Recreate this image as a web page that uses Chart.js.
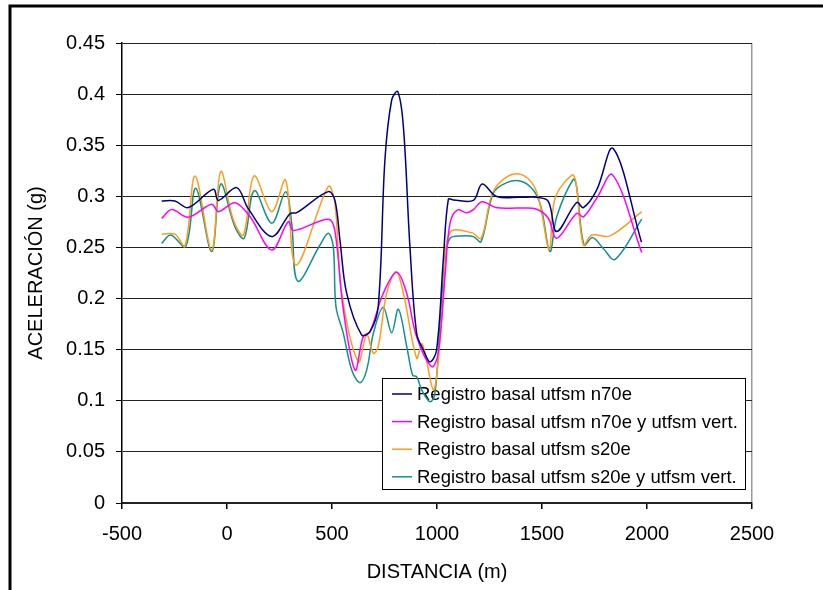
<!DOCTYPE html>
<html>
<head>
<meta charset="utf-8">
<title>Aceleración vs distancia</title>
<script src="https://cdn.jsdelivr.net/npm/chart.js@4.4.1/dist/chart.umd.min.js"></script>
<style>
  html, body { margin: 0; padding: 0; background: #fff; }
  #chartContainer { width: 823px; height: 590px; }
</style>
</head>
<body>
<div id="chartContainer"><canvas id="chart" width="823" height="590"></canvas></div>
<script>
// series (x = distancia m, y = aceleración g)
const n70eX = [-311, -248, -184, -65, -41, 46, 101, 213, 300, 332, 482, 514, 538, 570, 641, 681, 720, 752, 784, 813, 840, 871, 903, 935, 967, 998, 1030, 1054, 1078, 1173, 1215, 1284, 1395, 1475, 1530, 1570, 1665, 1697, 1760, 1839, 1974];
const n70eY = [0.2955, 0.2955, 0.289, 0.307, 0.296, 0.3085, 0.288, 0.2606, 0.283, 0.284, 0.3046, 0.296, 0.257, 0.205, 0.1644, 0.1676, 0.192, 0.3356, 0.394, 0.4025, 0.368, 0.251, 0.166, 0.1497, 0.138, 0.1497, 0.238, 0.297, 0.2965, 0.296, 0.312, 0.2998, 0.299, 0.299, 0.295, 0.2655, 0.294, 0.289, 0.306, 0.3467, 0.255];

const n70eVertX = [-311, -263, -184, -73, -41, 38, 110, 213, 292, 316, 482, 514, 554, 610, 649, 681, 744, 808, 856, 903, 975, 1006, 1038, 1062, 1098, 1141, 1173, 1215, 1280, 1395, 1475, 1530, 1570, 1665, 1697, 1760, 1836, 1975];
const n70eVertY = [0.2785, 0.287, 0.2796, 0.2923, 0.285, 0.2938, 0.280, 0.2476, 0.2753, 0.2665, 0.2776, 0.266, 0.1888, 0.130, 0.163, 0.1676, 0.205, 0.2257, 0.205, 0.1627, 0.1334, 0.1465, 0.2215, 0.2737, 0.2867, 0.284, 0.287, 0.2948, 0.289, 0.2885, 0.2874, 0.2786, 0.259, 0.2834, 0.280, 0.298, 0.321, 0.245];

const s20eX = [-311, -248, -200, -152, -73, -30, 30, 78, 129, 213, 279, 329, 482, 514, 546, 625, 665, 697, 720, 760, 805, 840, 903, 927, 943, 983, 1006, 1030, 1062, 1165, 1210, 1264, 1332, 1400, 1459, 1490, 1535, 1562, 1644, 1662, 1697, 1737, 1824, 1975];
const s20eY = [0.263, 0.263, 0.2515, 0.320, 0.2476, 0.3242, 0.277, 0.2622, 0.320, 0.285, 0.316, 0.2329, 0.3095, 0.293, 0.205, 0.138, 0.1644, 0.1465, 0.153, 0.205, 0.2263, 0.205, 0.1416, 0.1556, 0.1465, 0.1106, 0.140, 0.205, 0.2645, 0.2645, 0.259, 0.303, 0.319, 0.3215, 0.311, 0.293, 0.248, 0.298, 0.321, 0.313, 0.2524, 0.2622, 0.2613, 0.285];

const s20eVertX = [-311, -268, -197, -149, -73, -30, 38, 82, 130, 213, 279, 308, 337, 443, 482, 506, 519, 554, 594, 633, 665, 697, 744, 784, 816, 856, 884, 903, 927, 967, 990, 1014, 1038, 1062, 1117, 1173, 1210, 1268, 1332, 1400, 1459, 1495, 1538, 1570, 1649, 1665, 1700, 1741, 1792, 1848, 1975];
const s20eVertY = [0.254, 0.2622, 0.2508, 0.308, 0.246, 0.312, 0.270, 0.259, 0.3056, 0.2737, 0.3046, 0.2737, 0.217, 0.2524, 0.2638, 0.251, 0.192, 0.166, 0.130, 0.1177, 0.130, 0.166, 0.1915, 0.1666, 0.1895, 0.153, 0.125, 0.1236, 0.1106, 0.099, 0.107, 0.1725, 0.238, 0.259, 0.2613, 0.2606, 0.2557, 0.303, 0.3134, 0.3148, 0.306, 0.29, 0.246, 0.280, 0.3167, 0.3095, 0.2524, 0.2596, 0.249, 0.2384, 0.2777];

const seriesNames = [
  "Registro basal utfsm n70e",
  "Registro basal utfsm n70e y utfsm vert.",
  "Registro basal utfsm s20e",
  "Registro basal utfsm s20e y utfsm vert."
];
const seriesColors = ["#000080", "#ff00ff", "#ff9c1a", "#139090"];

const xTicks = [-500, 0, 500, 1000, 1500, 2000, 2500];
const yTicks = [0, 0.05, 0.1, 0.15, 0.2, 0.25, 0.3, 0.35, 0.4, 0.45];

const FONT = "'Liberation Sans', Arial, sans-serif";

function toPoints(xs, ys) {
  return xs.map((x, i) => ({ x: x, y: ys[i] }));
}

// white page + the black frame that is cut off at right and bottom
const framePlugin = {
  id: "frame",
  beforeDraw(chart) {
    const ctx = chart.ctx;
    ctx.save();
    ctx.fillStyle = "#fff";
    ctx.fillRect(0, 0, chart.width, chart.height);
    ctx.strokeStyle = "#000";
    ctx.lineWidth = 3;
    ctx.strokeRect(10, 6, chart.width + 20, chart.height + 20);
    ctx.restore();
  }
};

// legend box inside the plot, curves are drawn over it
const boxLegend = {
  id: "boxLegend",
  beforeDatasetsDraw(chart) {
    const ctx = chart.ctx;
    const area = chart.chartArea;
    const w = 363, h = 111;
    const left = area.right - 7 - w;
    const top = area.bottom - 14 - h;
    ctx.save();
    ctx.fillStyle = "#fff";
    ctx.fillRect(left, top, w, h);
    ctx.strokeStyle = "#000";
    ctx.lineWidth = 1;
    ctx.strokeRect(left + 0.5, top + 0.5, w, h);
    ctx.font = "18.5px " + FONT;
    ctx.textBaseline = "middle";
    ctx.fillStyle = "#000";
    chart.data.datasets.forEach((ds, i) => {
      const y = top + 16 + i * 27.6;
      ctx.strokeStyle = ds.borderColor;
      ctx.lineWidth = 1.5;
      ctx.beginPath();
      ctx.moveTo(left + 10, y);
      ctx.lineTo(left + 30, y);
      ctx.stroke();
      ctx.fillText(ds.label, left + 35, y + 1);
    });
    ctx.restore();
  }
};

function createLineChart() {
  const datasets = [
    toPoints(n70eX, n70eY),
    toPoints(n70eVertX, n70eVertY),
    toPoints(s20eX, s20eY),
    toPoints(s20eVertX, s20eVertY)
  ].map((pts, i) => ({
    label: seriesNames[i],
    data: pts,
    borderColor: seriesColors[i],
    borderWidth: 1.5,
    pointRadius: 0,
    tension: 0.35,
    fill: false
  }));

  const tickFont = { family: FONT, size: 20 };

  const chartOptions = {
    responsive: false,
    animation: false,
    layout: { padding: { top: 43, right: 71, left: 0, bottom: 0 } },
    plugins: {
      legend: { display: false },
      tooltip: { enabled: false }
    },
    scales: {
      x: {
        type: "linear",
        min: -500,
        max: 2500,
        afterBuildTicks: s => { s.ticks = xTicks.map(v => ({ value: v })); },
        afterFit: s => { s.height = 87; },
        ticks: {
          color: "#000",
          font: tickFont,
          padding: 13,
          maxRotation: 0,
          callback: v => String(v)
        },
        grid: {
          drawOnChartArea: true,
          color: c => (c.tick && c.tick.value === 2500 ? "#999" : "rgba(0,0,0,0)"),
          tickColor: "#000",
          tickLength: 6,
          lineWidth: 1.5
        },
        border: { color: "#222", width: 2 },
        title: {
          display: true,
          text: "DISTANCIA (m)",
          color: "#000",
          font: { family: FONT, size: 20 },
          padding: { top: 0, bottom: 6 }
        }
      },
      y: {
        min: 0,
        max: 0.45,
        afterBuildTicks: s => { s.ticks = yTicks.map(v => ({ value: v })); },
        afterFit: s => { s.width = 122; },
        ticks: {
          color: "#000",
          font: tickFont,
          padding: 11,
          callback: v => String(Math.round(v * 100) / 100)
        },
        grid: {
          color: "#222",
          tickColor: "#000",
          tickLength: 6,
          lineWidth: 1
        },
        border: { color: "#000", width: 1.5 },
        title: {
          display: true,
          text: "ACELERACIÓN (g)",
          color: "#000",
          font: { family: FONT, size: 20 },
          padding: { top: 24, bottom: 0 }
        }
      }
    }
  };

  new Chart(document.getElementById("chart"), {
    type: "line",
    data: { datasets: datasets },
    options: chartOptions,
    plugins: [framePlugin, boxLegend]
  });
}

createLineChart();
</script>
</body>
</html>
